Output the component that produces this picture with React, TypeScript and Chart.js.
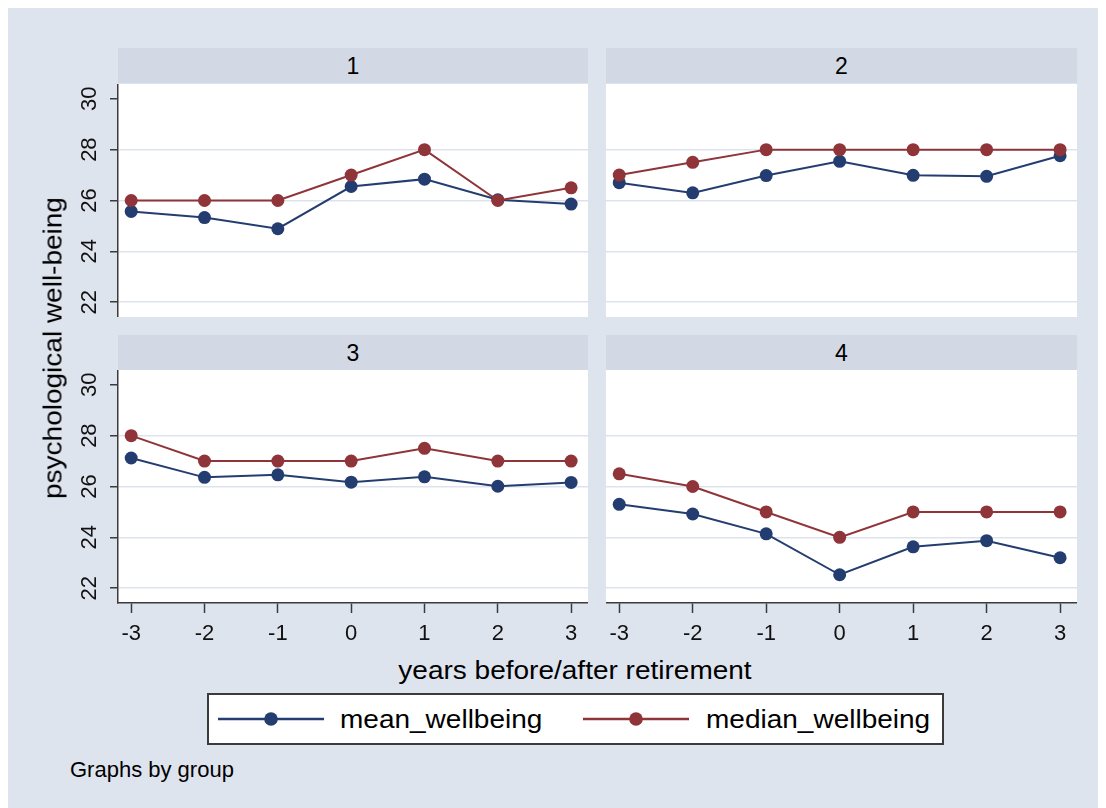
import { useEffect, useRef } from "react";
import { Chart, registerables } from "chart.js";

Chart.register(...registerables);

// ---- data -----------------------------------------------------------------
const YEARS = [-3, -2, -1, 0, 1, 2, 3];
const X_TICKS = [-3, -2, -1, 0, 1, 2, 3];
const Y_TICKS = [22, 24, 26, 28, 30];
const GROUP_LABELS = ["1", "2", "3", "4"];
const SERIES_NAMES = ["mean_wellbeing", "median_wellbeing"];

const MEAN_G1 = [25.57, 25.33, 24.89, 26.55, 26.84, 26.03, 25.86];
const MEDIAN_G1 = [26, 26, 26, 27, 28, 26, 26.5];
const MEAN_G2 = [26.7, 26.3, 26.98, 27.54, 26.99, 26.95, 27.76];
const MEDIAN_G2 = [27, 27.5, 28, 28, 28, 28, 28];
const MEAN_G3 = [27.12, 26.36, 26.46, 26.17, 26.38, 26.01, 26.16];
const MEDIAN_G3 = [28, 27, 27, 27, 27.5, 27, 27];
const MEAN_G4 = [25.3, 24.92, 24.14, 22.53, 23.63, 23.87, 23.2];
const MEDIAN_G4 = [26.5, 26, 25, 24, 25, 25, 25];

const X_TITLE = "years before/after retirement";
const Y_TITLE = "psychological well-being";
const NOTE = "Graphs by group";

// ---- style ----------------------------------------------------------------
const NAVY = "#243d71";
const MAROON = "#8f3439";
const PAGE_BG = "#dee4ee";
const STRIP_BG = "#d2d8e4";
const GRID = "#dde3ed";
const AXIS = "#3b3b3b";
const FONT = '"Liberation Sans", Arial, Helvetica, sans-serif';

const X_MIN = -3.18;
const X_MAX = 3.23;
const Y_MIN = 21.42;
const Y_MAX = 30.58;

function series(label: string, values: number[], color: string, order: number) {
  return {
    label,
    data: YEARS.map((x, i) => ({ x, y: values[i] })),
    borderColor: color,
    backgroundColor: color,
    pointBackgroundColor: color,
    pointBorderColor: color,
    pointBorderWidth: 0,
    pointRadius: 6.5,
    borderWidth: 2,
    tension: 0,
    fill: false,
    clip: false,
    order,
  };
}

const plotBackground = {
  id: "plotBackground",
  beforeDraw(chart: any) {
    const { ctx, chartArea } = chart;
    ctx.save();
    ctx.fillStyle = "#ffffff";
    ctx.fillRect(chartArea.left, chartArea.top, chartArea.right - chartArea.left, chartArea.bottom - chartArea.top);
    ctx.restore();
  },
};

type PanelProps = {
  mean: number[];
  median: number[];
  left: number;
  top: number;
  width: number;
  height: number;
  yAxis: boolean;
  xAxis: boolean;
};

function Panel(p: PanelProps) {
  const ref = useRef<HTMLCanvasElement>(null);

  useEffect(() => {
    const canvas = ref.current;
    if (!canvas) return;
    const tickFont = { family: FONT, size: 22 };
    const chart = new Chart(canvas, {
      type: "line",
      data: {
        datasets: [
          series(SERIES_NAMES[0], p.mean, NAVY, 1),
          series(SERIES_NAMES[1], p.median, MAROON, 0),
        ] as any,
      },
      options: {
        animation: false,
        responsive: false,
        maintainAspectRatio: false,
        devicePixelRatio: 1,
        events: [],
        layout: { padding: 0, autoPadding: false },
        plugins: { legend: { display: false }, tooltip: { enabled: false } },
        scales: {
          x: {
            type: "linear",
            min: X_MIN,
            max: X_MAX,
            display: p.xAxis,
            afterBuildTicks: (s: any) => {
              s.ticks = X_TICKS.map((v) => ({ value: v }));
            },
            afterFit: (s: any) => {
              s.height = p.xAxis ? 50 : 0;
              s.paddingLeft = 0;
              s.paddingRight = 0;
            },
            grid: {
              drawOnChartArea: false,
              drawTicks: true,
              tickLength: 10,
              tickColor: AXIS,
              tickWidth: 1.5,
            },
            border: { display: true, color: AXIS, width: 1.5 },
            ticks: {
              font: tickFont,
              color: "#111",
              padding: 8,
              minRotation: 0,
              maxRotation: 0,
              autoSkip: false,
            },
          },
          y: {
            type: "linear",
            min: Y_MIN,
            max: Y_MAX,
            afterBuildTicks: (s: any) => {
              s.ticks = Y_TICKS.map((v) => ({ value: v }));
            },
            afterFit: (s: any) => {
              s.width = p.yAxis ? 58 : 0;
              s.paddingTop = 0;
              s.paddingBottom = 0;
            },
            grid: {
              color: (c: any) => (c.tick && c.tick.value === 30 ? "rgba(0,0,0,0)" : GRID),
              lineWidth: 1.5,
              drawTicks: p.yAxis,
              tickLength: 8,
              tickColor: AXIS,
              tickWidth: 1.5,
            },
            border: { display: p.yAxis, color: AXIS, width: 1.5 },
            ticks: {
              display: p.yAxis,
              font: tickFont,
              color: "#111",
              padding: 8,
              minRotation: 90,
              maxRotation: 90,
              crossAlign: "center",
              autoSkip: false,
            },
          },
        },
      } as any,
      plugins: [plotBackground],
    });
    return () => chart.destroy();
  }, []);

  return (
    <canvas
      ref={ref}
      width={p.width}
      height={p.height}
      style={{ position: "absolute", left: p.left, top: p.top, width: p.width, height: p.height }}
    />
  );
}

function Strip({ label, left, top, width }: { label: string; left: number; top: number; width: number }) {
  return (
    <div
      style={{
        position: "absolute",
        left,
        top,
        width,
        height: 35,
        background: STRIP_BG,
        color: "#000",
        fontSize: 23,
        lineHeight: "36px",
        textAlign: "center",
      }}
    >
      {label}
    </div>
  );
}

function LegendSample({ left, top, color }: { left: number; top: number; color: string }) {
  return (
    <svg style={{ position: "absolute", left, top }} width={106} height={16}>
      <line x1={0} y1={8} x2={106} y2={8} stroke={color} strokeWidth={2.5} />
      <circle cx={53} cy={8} r={6.8} fill={color} />
    </svg>
  );
}

const wideText = {
  position: "absolute" as const,
  fontSize: 25,
  lineHeight: "25px",
  whiteSpace: "nowrap" as const,
  color: "#000",
};

export default function App() {
  return (
    <div
      style={{
        position: "relative",
        width: 1098,
        height: 800,
        background: PAGE_BG,
        fontFamily: FONT,
        overflow: "hidden",
      }}
    >
      <Strip label={GROUP_LABELS[0]} left={110} top={40} width={470} />
      <Strip label={GROUP_LABELS[1]} left={598} top={40} width={471} />
      <Strip label={GROUP_LABELS[2]} left={110} top={327} width={470} />
      <Strip label={GROUP_LABELS[3]} left={598} top={327} width={471} />

      <Panel mean={MEAN_G1} median={MEDIAN_G1} left={52} top={76} width={528} height={233} yAxis xAxis={false} />
      <Panel mean={MEAN_G2} median={MEDIAN_G2} left={598} top={76} width={471} height={233} yAxis={false} xAxis={false} />
      <Panel mean={MEAN_G3} median={MEDIAN_G3} left={52} top={362} width={528} height={283} yAxis xAxis />
      <Panel mean={MEAN_G4} median={MEDIAN_G4} left={598} top={362} width={471} height={283} yAxis={false} xAxis />

      {/* y-axis title, rotated to read upward */}
      <div
        style={{
          ...wideText,
          left: 45,
          top: 340,
          transform: "translate(-50%, -50%) rotate(-90deg) scaleX(1.12)",
        }}
      >
        {Y_TITLE}
      </div>

      {/* x-axis title */}
      <div
        style={{
          ...wideText,
          left: 567,
          top: 662,
          transform: "translate(-50%, -50%) scaleX(1.12)",
        }}
      >
        {X_TITLE}
      </div>

      {/* legend */}
      <div
        style={{
          position: "absolute",
          left: 199,
          top: 685,
          width: 737,
          height: 52,
          boxSizing: "border-box",
          border: `2px solid ${AXIS}`,
          background: "#fff",
        }}
      />
      <LegendSample left={210} top={703} color={NAVY} />
      <div style={{ ...wideText, left: 332, top: 698.5, transformOrigin: "left center", transform: "scaleX(1.12)" }}>
        {SERIES_NAMES[0]}
      </div>
      <LegendSample left={575} top={703} color={MAROON} />
      <div style={{ ...wideText, left: 698, top: 698.5, transformOrigin: "left center", transform: "scaleX(1.12)" }}>
        {SERIES_NAMES[1]}
      </div>

      {/* note */}
      <div style={{ position: "absolute", left: 62, top: 751, fontSize: 22, lineHeight: "22px", whiteSpace: "nowrap", color: "#000" }}>
        {NOTE}
      </div>
    </div>
  );
}
